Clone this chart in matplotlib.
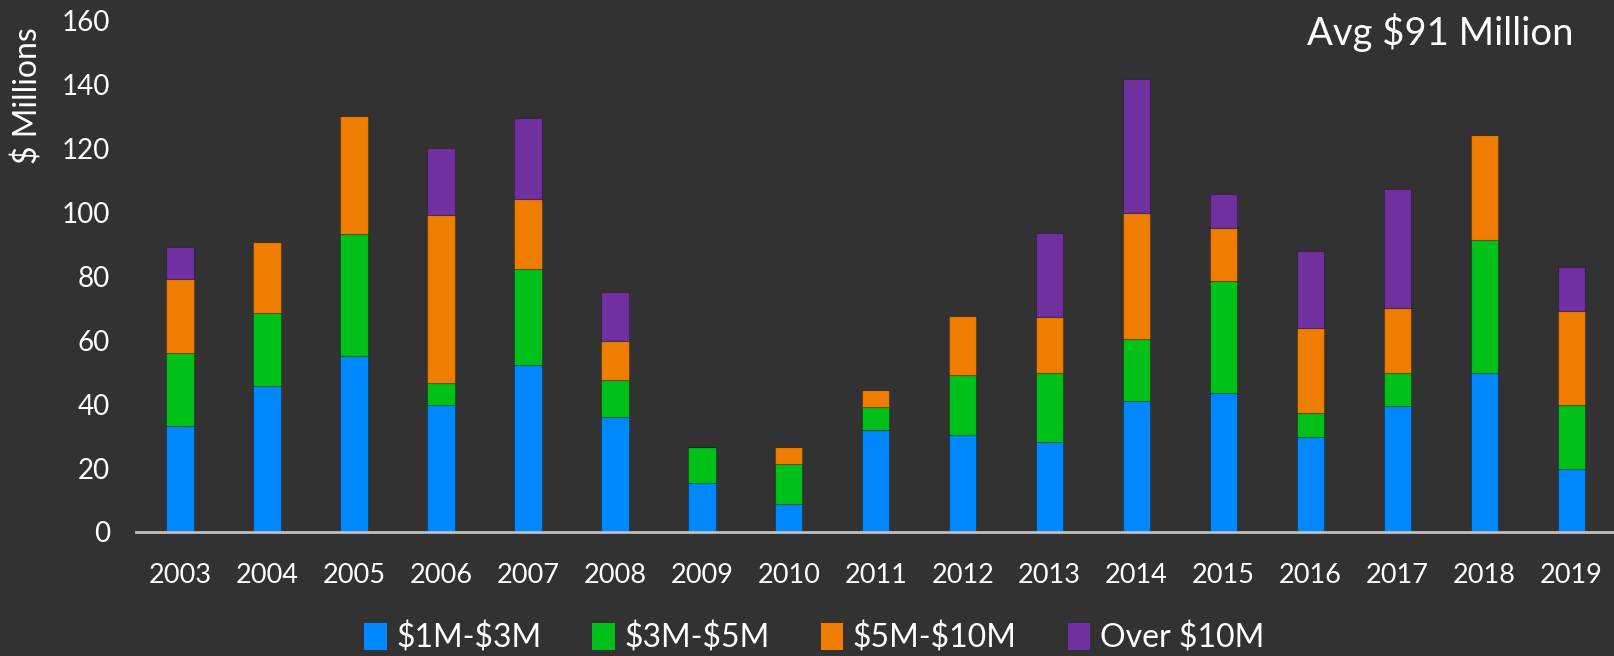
import matplotlib
matplotlib.use("Agg")
import matplotlib.pyplot as plt
import numpy as np
from matplotlib.patches import Patch

years = ["2003", "2004", "2005", "2006", "2007", "2008", "2009", "2010", "2011",
         "2012", "2013", "2014", "2015", "2016", "2017", "2018", "2019"]
s_1_3 = [33.3, 45.7, 55.1, 39.6, 52.4, 36.1, 15.3, 8.9, 31.9, 30.3, 28.2, 41.1, 43.6, 29.7, 39.4, 49.6, 19.6]
s_3_5 = [22.7, 22.7, 38.0, 6.9, 30.0, 11.4, 11.4, 12.4, 7.2, 18.8, 21.7, 19.4, 34.8, 7.4, 10.2, 41.7, 20.0]
s_5_10 = [23.1, 22.3, 36.9, 52.8, 21.7, 12.2, 0.0, 5.2, 5.3, 18.4, 17.3, 39.2, 16.7, 26.8, 20.4, 33.0, 29.5]
s_over10 = [10.1, 0.0, 0.0, 20.9, 25.4, 15.5, 0.0, 0.0, 0.0, 0.0, 26.3, 42.0, 10.7, 23.9, 37.2, 0.0, 13.9]
series_names = ["$1M-$3M", "$3M-$5M", "$5M-$10M", "Over $10M"]
series_colors = ["#0088FF", "#00C01A", "#EE7D00", "#7030A0"]
yticks = [0, 20, 40, 60, 80, 100, 120, 140, 160]

BG = "#323232"
FG = "#FFFFFF"
plt.rcParams['font.family'] = ['Lato', 'DejaVu Sans']
plt.rcParams['text.parse_math'] = False

W, H = 1615, 656
fig = plt.figure(figsize=(W / 100, H / 100), dpi=100, facecolor=BG)
ax = fig.add_axes([136.5 / W, 1 - 532 / H, 1 - 136.5 / W, (532 - 20.6) / H])
ax.set_facecolor(BG)

x = np.arange(len(years))
bottom = np.zeros(len(years))
for vals, name, col in zip([s_1_3, s_3_5, s_5_10, s_over10], series_names, series_colors):
    v = np.array(vals)
    ax.bar(x, v, width=0.315, bottom=bottom, color=col, edgecolor=(0, 0, 0, 0.25),
           linewidth=0.8, label=name, zorder=2)
    bottom += v

ax.set_xlim(-0.5, len(years) - 0.5)
ax.set_ylim(0, 160)
ax.set_yticks(yticks)
ax.set_yticklabels([str(t) for t in yticks])
ax.set_xticks(x)
ax.set_xticklabels(years)
for s in ["top", "right", "left"]:
    ax.spines[s].set_visible(False)
ax.spines["bottom"].set_color("#BFBFBF")
ax.spines["bottom"].set_linewidth(2)
ax.spines["bottom"].set_zorder(3)
ax.tick_params(axis="x", length=0, pad=22, labelsize=19.5, colors=FG)
ax.tick_params(axis="y", length=0, pad=19, labelsize=20, colors=FG)

fig.text(28 / W, 1 - 96 / H, "$ Millions", rotation=90, ha="center", va="center",
         color=FG, fontsize=23)
fig.text(1574 / W, 1 - 33 / H, "Avg $91 Million", ha="right", va="center",
         color=FG, fontsize=27.5)

handles = [Patch(facecolor=c, edgecolor="none", label=n) for n, c in zip(series_names, series_colors)]
leg = fig.legend(handles=handles, loc="center", bbox_to_anchor=(814 / W, 1 - 638 / H),
                 ncol=4, frameon=False, fontsize=23, handlelength=0.7, handleheight=0.9,
                 handletextpad=0.3, columnspacing=1.6, labelcolor=FG)

fig.savefig("out.png", dpi=100, facecolor=BG)
